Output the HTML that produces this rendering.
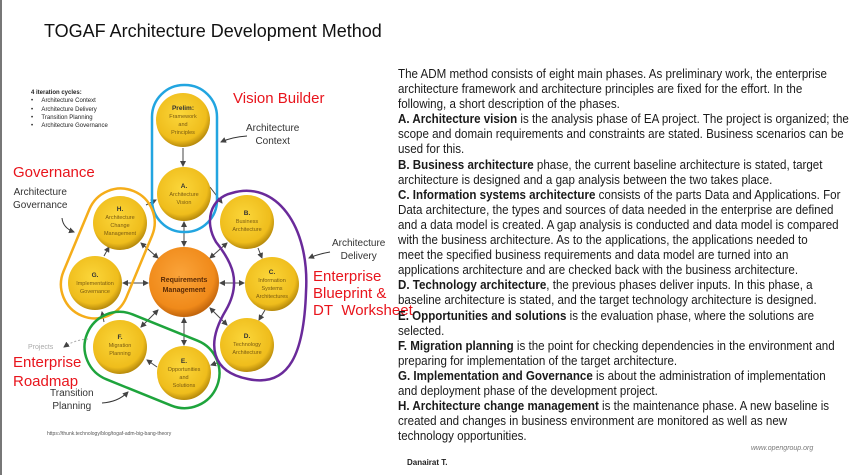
<!DOCTYPE html>
<html><head><meta charset="utf-8">
<style>
html,body{margin:0;padding:0;background:#fff;}
body{width:854px;height:475px;position:relative;overflow:hidden;font-family:"Liberation Sans",sans-serif;}
.abs{position:absolute;white-space:nowrap;}
#txt{position:absolute;left:398px;top:66px;font-size:13px;line-height:15.1px;color:#1a1a1a;transform:scaleX(0.89);transform-origin:0 0;}
#txt div{white-space:nowrap;}
.red{color:#e8141c;font-size:15px;}
.ann{font-size:10px;color:#333;text-align:center;line-height:13px;}
</style></head><body>
<div style="position:absolute;left:0;top:0;width:2px;height:475px;background:#777"></div>
<div class="abs" style="left:44px;top:21px;font-size:18px;color:#111;">TOGAF Architecture Development Method</div>

<div class="abs" style="left:31px;top:89px;font-size:6px;line-height:8.3px;color:#222;">
<b>4 iteration cycles:</b><br>
&bull;&nbsp;&nbsp;&nbsp;&nbsp;&nbsp;Architecture Context<br>
&bull;&nbsp;&nbsp;&nbsp;&nbsp;&nbsp;Architecture Delivery<br>
&bull;&nbsp;&nbsp;&nbsp;&nbsp;&nbsp;Transition Planning<br>
&bull;&nbsp;&nbsp;&nbsp;&nbsp;&nbsp;Architecture Governance
</div>

<svg width="854" height="475" style="position:absolute;left:0;top:0">
<defs>
<radialGradient id="y" cx="45%" cy="40%" r="60%"><stop offset="0" stop-color="#fbd63a"/><stop offset="0.8" stop-color="#efbd1c"/><stop offset="1" stop-color="#b88b0c"/></radialGradient>
<radialGradient id="o" cx="45%" cy="40%" r="60%"><stop offset="0" stop-color="#faa43a"/><stop offset="0.8" stop-color="#f08a1a"/><stop offset="1" stop-color="#c2650c"/></radialGradient>
<marker id="a" markerWidth="6" markerHeight="6" refX="5" refY="3" orient="auto" markerUnits="userSpaceOnUse"><path d="M0,0 L6,3 L0,6 Z" fill="#444"/></marker>
<marker id="s" markerWidth="6" markerHeight="6" refX="1" refY="3" orient="auto" markerUnits="userSpaceOnUse"><path d="M6,0 L0,3 L6,6 Z" fill="#444"/></marker>
</defs>
<g stroke="#444" stroke-width="1" fill="none">
<line x1="183" y1="148" x2="183" y2="166" marker-end="url(#a)"/>
<line x1="184" y1="222" x2="184" y2="246" marker-start="url(#s)" marker-end="url(#a)"/>
<line x1="184" y1="318" x2="184" y2="345" marker-start="url(#s)" marker-end="url(#a)"/>
<line x1="123" y1="283" x2="148" y2="283" marker-start="url(#s)" marker-end="url(#a)"/>
<line x1="220" y1="283" x2="244" y2="283" marker-start="url(#s)" marker-end="url(#a)"/>
<line x1="141" y1="243" x2="158" y2="258" marker-start="url(#s)" marker-end="url(#a)"/>
<line x1="227" y1="243" x2="210" y2="258" marker-start="url(#s)" marker-end="url(#a)"/>
<line x1="141" y1="327" x2="158" y2="310" marker-start="url(#s)" marker-end="url(#a)"/>
<line x1="227" y1="325" x2="210" y2="308" marker-start="url(#s)" marker-end="url(#a)"/>
<line x1="210" y1="187" x2="222" y2="203" marker-end="url(#a)"/>
<line x1="258" y1="248" x2="262" y2="258" marker-end="url(#a)"/>
<line x1="265" y1="310" x2="259" y2="320" marker-end="url(#a)"/>
<line x1="220" y1="362" x2="211" y2="365" marker-end="url(#a)"/>
<line x1="157" y1="367" x2="147" y2="360" marker-end="url(#a)"/>
<line x1="104" y1="322" x2="102" y2="312" marker-end="url(#a)"/>
<line x1="104" y1="256" x2="109" y2="247" marker-end="url(#a)"/>
<line x1="146" y1="205" x2="156" y2="200" marker-end="url(#a)"/>
</g>
<g fill="url(#y)">
<circle cx="183" cy="120" r="27"/><circle cx="184" cy="194" r="27"/><circle cx="247" cy="222" r="27"/>
<circle cx="272" cy="284" r="27"/><circle cx="247" cy="345" r="27"/><circle cx="184" cy="373" r="27"/>
<circle cx="120" cy="347" r="27"/><circle cx="95" cy="283" r="27"/><circle cx="120" cy="223" r="27"/>
</g>
<circle cx="184" cy="282" r="35" fill="url(#o)"/>
<rect x="152" y="85" width="65" height="147" rx="32" fill="none" stroke="#22a5e0" stroke-width="2.5"/>
<rect x="74" y="186" width="68" height="135" rx="34" fill="none" stroke="#f5ad1a" stroke-width="2.5" transform="rotate(22.6 108 253)"/>
<rect x="82" y="325" width="140" height="70" rx="35" fill="none" stroke="#1ea43c" stroke-width="2.5" transform="rotate(22 152 360)"/>
<path d="M232,193 C275,180 310,225 306,292 C304,352 290,388 248,379 C212,372 205,345 226,310 C242,282 232,262 216,242 C204,222 210,198 232,193 Z" fill="none" stroke="#6a2a9a" stroke-width="2.5"/>
<g stroke="#333" stroke-width="1" fill="none">
<path d="M247,136 Q232,137 221,142" marker-end="url(#a)"/>
<path d="M62,218 Q63,228 74,232" marker-end="url(#a)"/>
<path d="M330,252 Q318,254 309,258" marker-end="url(#a)"/>
<path d="M102,403 Q118,402 128,392" marker-end="url(#a)"/>
<path d="M88,339 Q74,340 64,347" stroke="#aaa" stroke-dasharray="2,2" marker-end="url(#a)"/>
</g>
<g font-family="Liberation Sans" text-anchor="middle" font-size="5.5" fill="#7a5a10">
<text x="183" y="110" font-weight="bold" font-size="6.5" fill="#333">Prelim:</text>
<text x="183" y="118">Framework</text><text x="183" y="126">and</text><text x="183" y="134">Principles</text>
<text x="184" y="188" font-weight="bold" font-size="6.5" fill="#333">A.</text>
<text x="184" y="196">Architecture</text><text x="184" y="204">Vision</text>
<text x="247" y="215" font-weight="bold" font-size="6.5" fill="#333">B.</text>
<text x="247" y="223">Business</text><text x="247" y="231">Architecture</text>
<text x="272" y="274" font-weight="bold" font-size="6.5" fill="#333">C.</text>
<text x="272" y="282">Information</text><text x="272" y="290">Systems</text><text x="272" y="298">Architectures</text>
<text x="247" y="338" font-weight="bold" font-size="6.5" fill="#333">D.</text>
<text x="247" y="346">Technology</text><text x="247" y="354">Architecture</text>
<text x="184" y="363" font-weight="bold" font-size="6.5" fill="#333">E.</text>
<text x="184" y="371">Opportunities</text><text x="184" y="379">and</text><text x="184" y="387">Solutions</text>
<text x="120" y="339" font-weight="bold" font-size="6.5" fill="#333">F.</text>
<text x="120" y="347">Migration</text><text x="120" y="355">Planning</text>
<text x="95" y="277" font-weight="bold" font-size="6.5" fill="#333">G.</text>
<text x="95" y="285">Implementation</text><text x="95" y="293">Governance</text>
<text x="120" y="211" font-weight="bold" font-size="6.5" fill="#333">H.</text>
<text x="120" y="219">Architecture</text><text x="120" y="227">Change</text><text x="120" y="235">Management</text>
<text x="184" y="282" font-weight="bold" font-size="7" fill="#5a2a05">Requirements</text>
<text x="184" y="292" font-weight="bold" font-size="7" fill="#5a2a05">Management</text>
</g>
</svg>

<div class="abs red" style="left:233px;top:90px;">Vision Builder</div>
<div class="abs red" style="left:13px;top:164px;">Governance</div>
<div class="abs red" style="left:313px;top:268px;line-height:17px;">Enterprise<br>Blueprint &amp;<br>DT&nbsp; Worksheet</div>
<div class="abs red" style="left:13px;top:353px;line-height:19px;">Enterprise<br>Roadmap</div>
<div class="abs ann" style="left:246px;top:122px;">Architecture<br>Context</div>
<div class="abs ann" style="left:13px;top:186px;">Architecture<br>Governance</div>
<div class="abs ann" style="left:332px;top:237px;">Architecture<br>Delivery</div>
<div class="abs ann" style="left:50px;top:387px;">Transition<br>Planning</div>
<div class="abs" style="left:28px;top:344px;font-size:7px;color:#aaa;">Projects</div>
<div class="abs" style="left:47px;top:431px;font-size:5px;color:#555;">https://thunk.technology/blog/togaf-adm-big-bang-theory</div>

<div id="txt">
<div>The ADM method consists of eight main phases. As preliminary work, the enterprise</div>
<div>architecture framework and architecture principles are fixed for the effort. In the</div>
<div>following, a short description of the phases.</div>
<div><b>A. Architecture vision</b> is the analysis phase of EA project. The project is organized; the</div>
<div>scope and domain requirements and constraints are stated. Business scenarios can be</div>
<div>used for this.</div>
<div><b>B. Business architecture</b> phase, the current baseline architecture is stated, target</div>
<div>architecture is designed and a gap analysis between the two takes place.</div>
<div><b>C. Information systems architecture</b> consists of the parts Data and Applications. For</div>
<div>Data architecture, the types and sources of data needed in the enterprise are defined</div>
<div>and a data model is created. A gap analysis is conducted and data model is compared</div>
<div>with the business architecture. As to the applications, the applications needed to</div>
<div>meet the specified business requirements and data model are turned into an</div>
<div>applications architecture and are checked back with the business architecture.</div>
<div><b>D. Technology architecture</b>, the previous phases deliver inputs. In this phase, a</div>
<div>baseline architecture is stated, and the target technology architecture is designed.</div>
<div><b>E. Opportunities and solutions</b> is the evaluation phase, where the solutions are</div>
<div>selected.</div>
<div><b>F. Migration planning</b> is the point for checking dependencies in the environment and</div>
<div>preparing for implementation of the target architecture.</div>
<div><b>G. Implementation and Governance</b> is about the administration of implementation</div>
<div>and deployment phase of the development project.</div>
<div><b>H. Architecture change management</b> is the maintenance phase. A new baseline is</div>
<div>created and changes in business environment are monitored as well as new</div>
<div>technology opportunities.</div>
</div>

<div class="abs" style="left:751px;top:445px;font-size:7px;font-style:italic;color:#777;">www.opengroup.org</div>
<div class="abs" style="left:407px;top:458px;font-size:8px;font-weight:bold;color:#222;">Danairat T.</div>
</body></html>
